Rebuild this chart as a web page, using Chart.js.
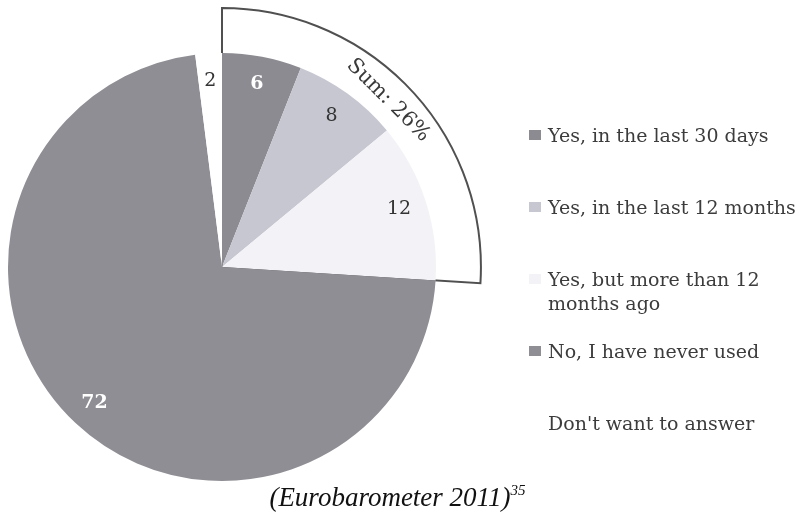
<!DOCTYPE html>
<html>
<head>
<meta charset="utf-8">
<script src="https://cdn.jsdelivr.net/npm/chart.js@4.4.1/dist/chart.umd.min.js"></script>
<style>
  html, body { margin: 0; padding: 0; background: #fff; }
  #wrap { position: relative; width: 805px; height: 513px; overflow: hidden; }
  #legend {
    position: absolute; left: 529px; top: 123px; margin: 0; padding: 0; list-style: none;
    font-family: "DejaVu Serif", serif; font-size: 19px; color: #3c3c3c;
  }
  #legend li { height: 72px; line-height: 24px; position: relative; padding-left: 19px; white-space: nowrap; }
  #legend li .box { position: absolute; left: 0; top: 7px; width: 12px; height: 10px; }
  #caption {
    position: absolute; left: 0; width: 795px; top: 482px; line-height: 30px; text-align: center;
    font-family: "Liberation Serif", serif; font-style: italic; font-size: 27px; color: #111;
  }
  #caption sup { font-size: 15px; line-height: 0; vertical-align: 11px; }
</style>
</head>
<body>
<div id="wrap">
  <canvas id="usage_chart" width="805" height="513"></canvas>
  <ul id="legend"></ul>
  <div id="caption">(Eurobarometer 2011)<sup>35</sup></div>
</div>
<script>
// answers, in the order they go round the pie from 12 o'clock
const categories = [
    'Yes, in the last 30 days',
    'Yes, in the last 12 months',
    ['Yes, but more than 12', 'months ago'],
    'No, I have never used',
    "Don't want to answer"
];
const shares = [6, 8, 12, 72, 2];
// the "yes" answers that get the outlined sum wedge
const yes_group = [0, 1, 2];

const slice_colors = ['#8b8b91', '#c7c7d2', '#f3f3f7', '#8e8e94', '#ffffff'];
const label_colors = ['#ffffff', '#333333', '#333333', '#ffffff', '#333333'];

// legend on the right, same colours as the slices
const legend = document.getElementById('legend');
categories.forEach((cat, i) => {
    const li = document.createElement('li');
    const box = document.createElement('span');
    box.className = 'box';
    box.style.background = slice_colors[i];
    li.appendChild(box);
    const lines = Array.isArray(cat) ? cat : [cat];
    lines.forEach((line, k) => {
        if (k > 0) li.appendChild(document.createElement('br'));
        li.appendChild(document.createTextNode(line));
    });
    legend.appendChild(li);
});

const sum_wedge = {
    id: 'sum_wedge',
    beforeDatasetsDraw(chart) {
        const arcs = chart.getDatasetMeta(0).data;
        const first = arcs[yes_group[0]].getProps(['x', 'y', 'startAngle', 'outerRadius'], true);
        const last = arcs[yes_group[yes_group.length - 1]].getProps(['endAngle'], true);
        const ctx = chart.ctx;
        const r = first.outerRadius * 1.21;
        ctx.save();
        ctx.beginPath();
        ctx.moveTo(first.x, first.y);
        ctx.arc(first.x, first.y, r, first.startAngle, last.endAngle);
        ctx.closePath();
        ctx.fillStyle = '#ffffff';
        ctx.fill();
        ctx.lineWidth = 2;
        ctx.strokeStyle = '#505050';
        ctx.stroke();
        ctx.restore();
    },
    afterDatasetsDraw(chart) {
        const arcs = chart.getDatasetMeta(0).data;
        const ctx = chart.ctx;
        ctx.save();
        ctx.textAlign = 'center';
        ctx.textBaseline = 'middle';
        arcs.forEach((arc, i) => {
            const p = arc.getProps(['x', 'y', 'startAngle', 'endAngle', 'outerRadius'], true);
            const mid = (p.startAngle + p.endAngle) / 2;
            const rr = p.outerRadius * 0.87;
            // white numbers sit on the dark slices and look heavier
            ctx.font = (label_colors[i] === '#ffffff' ? 'bold ' : '') + '19px "DejaVu Serif"';
            ctx.fillStyle = label_colors[i];
            ctx.fillText(String(shares[i]), p.x + Math.cos(mid) * rr, p.y + Math.sin(mid) * rr);
        });

        // "Sum: 26%" along the outline
        const first = arcs[yes_group[0]].getProps(['x', 'y', 'startAngle', 'outerRadius'], true);
        const last = arcs[yes_group[yes_group.length - 1]].getProps(['endAngle'], true);
        const total = yes_group.reduce((s, i) => s + shares[i], 0);
        const mid = first.startAngle + (last.endAngle - first.startAngle) * 0.48;
        const rr = first.outerRadius * 1.1;
        ctx.translate(first.x + Math.cos(mid) * rr, first.y + Math.sin(mid) * rr);
        ctx.rotate(mid + Math.PI / 2);
        ctx.font = '21px "DejaVu Serif"';
        ctx.fillStyle = '#3a3a3a';
        ctx.fillText('Sum: ' + total + '%', 0, 0);
        ctx.restore();
    }
};

new Chart(document.getElementById('usage_chart'), {
    type: 'pie',
    data: {
        labels: categories,
        datasets: [{
            data: shares,
            backgroundColor: slice_colors,
            borderWidth: 0
        }]
    },
    options: {
        responsive: false,
        animation: false,
        events: [],
        layout: {
            padding: { left: 8, top: 53, right: 369, bottom: 32 }
        },
        plugins: {
            legend: { display: false },
            tooltip: { enabled: false }
        }
    },
    plugins: [sum_wedge]
});
</script>
</body>
</html>
